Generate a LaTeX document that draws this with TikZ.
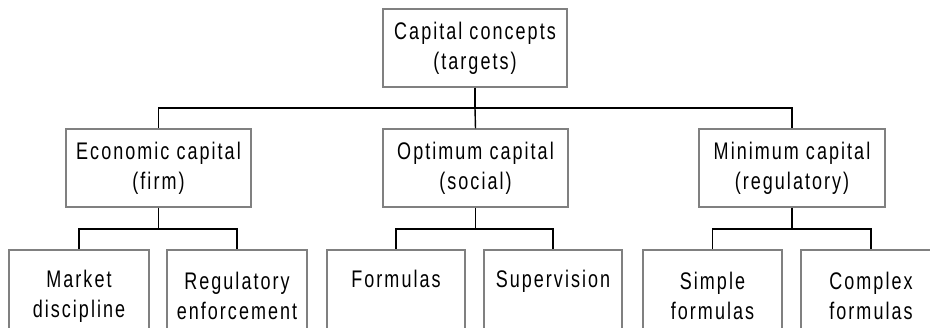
\documentclass[tikz,border=0pt]{standalone}
\usepackage{fontspec}
\setmainfont{Liberation Sans}[FakeStretch=0.75,LetterSpace=8.5]
\begin{document}
\begin{tikzpicture}[x=1pt,y=-1pt,
  box/.style={draw=black!50,line width=1.1pt,rectangle,inner sep=0pt,
    minimum height=78pt,align=center,font=\fontsize{24}{30}\selectfont},
  leaf/.style={box,minimum width=140pt,minimum height=92pt},
  conn/.style={draw=black,line width=1.4pt}]
\useasboundingbox (0,0) rectangle (930,328);
\clip (0,0) rectangle (930,328);
\node[box,minimum width=184pt] (top) at (475,48) {Capital concepts\\(targets)};
\node[box,minimum width=185pt] (eco) at (158.5,168) {Economic capital\\(firm)};
\node[box,minimum width=185pt] (opt) at (475.5,168) {Optimum capital\\(social)};
\node[box,minimum width=186pt] (min) at (792,168) {Minimum capital\\(regulatory)};
\node[leaf] (mkt) at (79,296) {Market\\discipline};
\node[leaf] (reg) at (237,296) {Regulatory\\enforcement};
\node[leaf,minimum width=138pt] (frm) at (396,296) {Formulas\\\phantom{g}};
\node[leaf,minimum width=138pt] (sup) at (553,296) {Supervision\\\phantom{g}};
\node[leaf,minimum width=139pt] (smp) at (712.5,296) {Simple\\formulas};
\node[leaf] (cpx) at (871,296) {Complex\\formulas};
\coordinate (j0) at (475,108);
\coordinate (j1) at (158.5,229);
\coordinate (j2) at (475.5,229);
\coordinate (j3) at (792,229);
\draw[conn] (top.south) -- (j0);
\draw[conn] (j0) -| (eco.north);
\draw[conn] (j0) -| (min.north);
\draw[conn] (j0) -- (opt.north);
\draw[conn] (eco.south) -- (j1);
\draw[conn] (j1) -| (mkt.north);
\draw[conn] (j1) -| (reg.north);
\draw[conn] (opt.south) -- (j2);
\draw[conn] (j2) -| (frm.north);
\draw[conn] (j2) -| (sup.north);
\draw[conn] (min.south) -- (j3);
\draw[conn] (j3) -| (smp.north);
\draw[conn] (j3) -| (cpx.north);
\end{tikzpicture}
\end{document}
